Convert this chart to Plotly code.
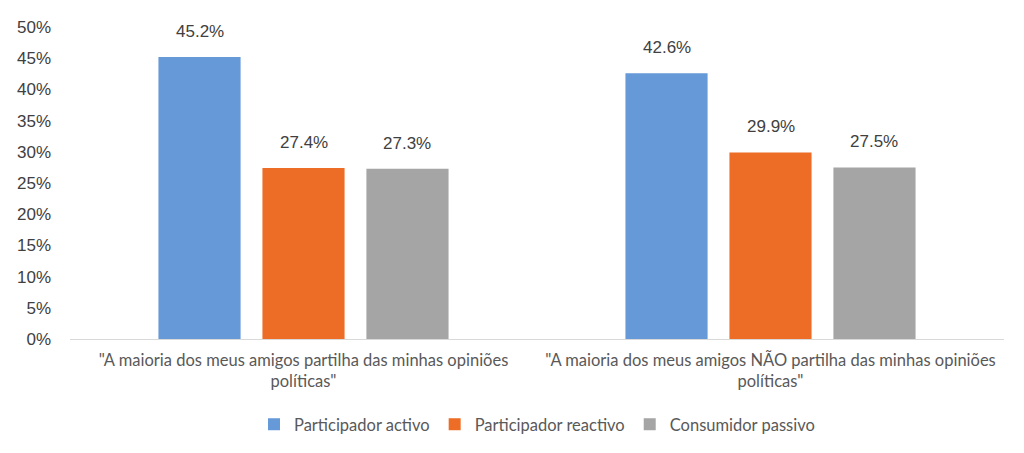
import plotly.graph_objects as go

categories = ['"A maioria dos meus amigos partilha das minhas opiniões<br>políticas"',
              '"A maioria dos meus amigos NÃO partilha das minhas opiniões<br>políticas"']
series_names = ["Participador activo", "Participador reactivo", "Consumidor passivo"]
activo = [0.452, 0.426]
reactivo = [0.274, 0.299]
passivo = [0.273, 0.275]
colors = ["#6699D8", "#ED6D26", "#A5A5A5"]
y_ticks = [0, 0.05, 0.10, 0.15, 0.20, 0.25, 0.30, 0.35, 0.40, 0.45, 0.50]

series = [activo, reactivo, passivo]
BARGAP = 0.332
fig = go.Figure()
for name, vals, col in zip(series_names, series, colors):
    fig.add_trace(go.Bar(x=categories, y=vals, name=name, marker_color=col,
                         marker_line_width=0, hoverinfo="skip"))

slot = (1 - BARGAP) / len(series)
for j, vals in enumerate(series):
    for i, v in enumerate(vals):
        fig.add_annotation(x=i + (j - (len(series) - 1) / 2) * slot, y=v,
                           xref="x", yref="y", text=f"{v*100:.1f}%",
                           showarrow=False, yanchor="bottom", yshift=14,
                           font=dict(family="Liberation Sans, Arial", size=17, color="#404040"))

fig.update_layout(
    width=1024, height=453,
    margin=dict(l=70, r=20, t=27, b=113),
    paper_bgcolor="white", plot_bgcolor="white",
    barmode="group", bargap=BARGAP, bargroupgap=0.21,
    showlegend=True,
    legend=dict(orientation="h", x=0.5, xanchor="center", y=-0.27, yanchor="middle",
                font=dict(family="Lato, Noto Sans", size=16.5, color="#595959"),
                itemwidth=30, tracegroupgap=0),
    xaxis=dict(showline=True, linecolor="#D9D9D9", linewidth=1, showgrid=False,
               tickfont=dict(family="Lato, Noto Sans", size=16.5, color="#595959"),
               ticks="", type="category", ticklabelstandoff=6),
    yaxis=dict(range=[0, 0.5], tickvals=y_ticks, tickformat=".0%", showgrid=False,
               zeroline=False, showline=False, ticks="", ticklabelstandoff=18,
               tickfont=dict(family="Liberation Sans, Arial", size=17, color="#404040")),
)

fig.write_html("out.html")
